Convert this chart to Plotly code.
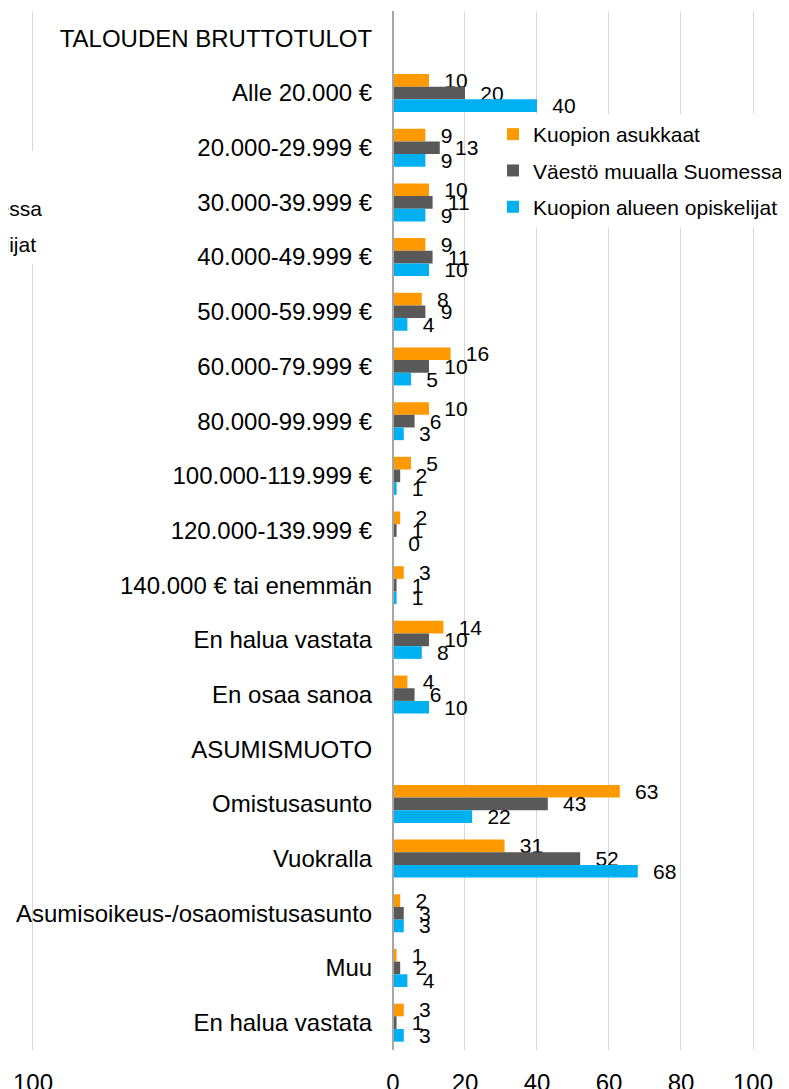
import plotly.graph_objects as go

# ---------------- data ----------------
categories = [
    "TALOUDEN BRUTTOTULOT", "Alle 20.000 €", "20.000-29.999 €", "30.000-39.999 €",
    "40.000-49.999 €", "50.000-59.999 €", "60.000-79.999 €", "80.000-99.999 €",
    "100.000-119.999 €", "120.000-139.999 €", "140.000 € tai enemmän",
    "En halua vastata", "En osaa sanoa", "ASUMISMUOTO", "Omistusasunto",
    "Vuokralla", "Asumisoikeus-/osaomistusasunto", "Muu", "En halua vastata",
]
kuopion_asukkaat = [None, 10, 9, 10, 9, 8, 16, 10, 5, 2, 3, 14, 4, None, 63, 31, 2, 1, 3]
vaesto_muualla = [None, 20, 13, 11, 11, 9, 10, 6, 2, 1, 1, 10, 6, None, 43, 52, 3, 2, 1]
opiskelijat = [None, 40, 9, 9, 10, 4, 5, 3, 1, 0, 1, 8, 10, None, 22, 68, 3, 4, 3]

series_names = ["Kuopion asukkaat", "Väestö muualla Suomessa", "Kuopion alueen opiskelijat"]
series_values = [kuopion_asukkaat, vaesto_muualla, opiskelijat]
colors = ["#FF9900", "#595959", "#00B0F0"]

tick_values = [-100, 0, 20, 40, 60, 80, 100]
tick_labels = ["100", "0", "20", "40", "60", "80", "100"]

# ---------------- layout constants ----------------
# (page body has an 8px margin, so the figure is sized/positioned to compensate)
W, H = 781, 1081
ML, MR, MT, MB = 21, 0, 3, 39
PW, PH = W - ML - MR, H - MT - MB
FONT = "Arial, 'Liberation Sans', sans-serif"
x_min, x_max = -101.1, 110.0
ypos = list(range(len(categories)))


def px_x(p):
    return (p - ML) / PW


def px_y(p):
    return 1 - (p - MT) / PH


fig = go.Figure()
for name, vals, col in zip(series_names, series_values, colors):
    fig.add_trace(go.Bar(
        y=ypos, x=vals, name=name, orientation="h",
        marker=dict(color=col, line=dict(width=0)),
        text=[None if v is None else "\u2002\u200a" + str(v) for v in vals],
        textposition="outside", constraintext="none", cliponaxis=False,
        textfont=dict(size=21, color="#000000", family=FONT),
        legendgroup=name, legend="legend", hoverinfo="x+name",
    ))

# second (cut-off) legend copy on the left edge
for name, col in zip(series_names, colors):
    fig.add_trace(go.Scatter(
        x=[None], y=[None], mode="markers", name=name,
        marker=dict(symbol="square", color=col, size=11),
        legend="legend2", legendgroup=name + "_2", showlegend=True,
    ))

fig.update_layout(
    width=W, height=H,
    margin=dict(l=ML, r=MR, t=MT, b=MB, autoexpand=False),
    paper_bgcolor="white", plot_bgcolor="white",
    barmode="group", bargap=0.305, bargroupgap=0,
    font=dict(family=FONT, color="#000000"),
    xaxis=dict(
        range=[x_min, x_max], tickmode="array", tickvals=tick_values, ticktext=tick_labels,
        showgrid=True, gridcolor="#D9D9D9", gridwidth=1, zeroline=False, showline=False,
        ticks="outside", ticklen=11, tickcolor="rgba(0,0,0,0)",
        tickfont=dict(size=24, color="#000000", family=FONT), domain=[0, 1],
    ),
    yaxis=dict(
        tickmode="array", tickvals=ypos, ticktext=categories,
        range=[len(categories) - 0.5, -0.5],
        anchor="free", position=(0 - x_min) / (x_max - x_min),
        showline=True, linecolor="#A6A6A6", linewidth=2,
        ticks="outside", ticklen=15, tickcolor="rgba(0,0,0,0)",
        tickfont=dict(size=24, color="#000000", family=FONT),
        showgrid=False, zeroline=False,
    ),
    legend=dict(
        x=px_x(485), y=px_y(106), xanchor="left", yanchor="top",
        bgcolor="white", borderwidth=0, tracegroupgap=6,
        font=dict(size=21, color="#000000", family=FONT),
    ),
    legend2=dict(
        x=px_x(-256), y=px_y(143), xanchor="left", yanchor="top",
        bgcolor="white", borderwidth=0, tracegroupgap=6,
        font=dict(size=21, color="#000000", family=FONT),
    ),
    showlegend=True,
)

fig.write_html("out.html")
